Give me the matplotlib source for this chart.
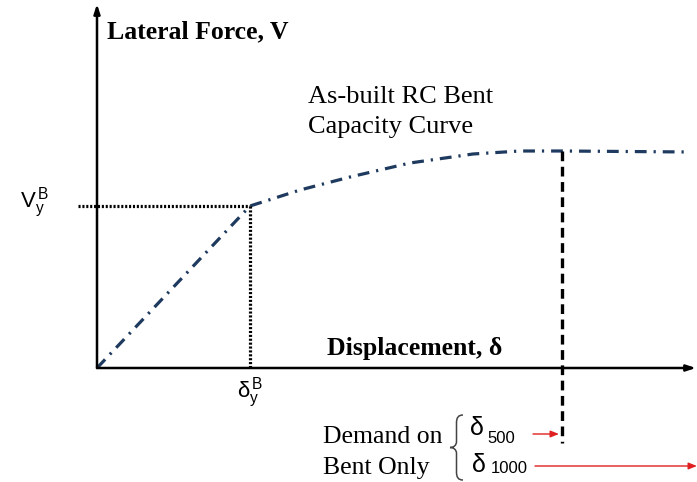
import numpy as np
import matplotlib
matplotlib.use("Agg")
import matplotlib.pyplot as plt
from matplotlib.path import Path
from matplotlib.patches import PathPatch

## Capacity curve of the as-built RC bent (displacement, lateral force)
curve_disp  = [0, 153, 203, 253, 313, 376, 423, 466, 593]
curve_force = [0, 162, 178, 191, 205, 214, 217, 217, 216]

# yield point and the 500-yr demand
yield_disp  = 153
yield_force = 162
demand_500  = 465

plt.rcParams['mathtext.fontset'] = 'custom'
plt.rcParams['mathtext.rm'] = 'Liberation Sans'
plt.rcParams['mathtext.it'] = 'Liberation Sans'
plt.rcParams['lines.scale_dashes'] = False

serif = 'Liberation Serif'
sans = 'Liberation Sans'

fig = plt.figure(figsize=(6.97, 4.82), dpi=100)
ax = fig.add_axes([0, 0, 1, 1])
ax.set_xlim(-97, 600)
ax.set_ylim(-114, 368)
ax.set_axis_off()

# axes with arrow heads
arrow = dict(arrowstyle='-|>,head_length=0.55,head_width=0.18', lw=1.8,
             color='black', shrinkA=0, shrinkB=0)
ax.annotate('', xy=(0, 364), xytext=(0, 0), arrowprops=arrow)
ax.annotate('', xy=(599, 0), xytext=(0, 0), arrowprops=arrow)

# capacity curve
ax.plot(curve_disp, curve_force, color='#1f3a5f', lw=2.3,
        dashes=(8.5, 5, 1.6, 5), solid_capstyle='butt')

# yield markers
ax.plot([-19, yield_disp], [yield_force, yield_force], color='black', lw=2.3,
        dashes=(1.5, 1.3))
ax.plot([yield_disp, yield_disp], [yield_force, 0], color='black', lw=2.3,
        dashes=(1.5, 1.3))

# demand line
ax.plot([demand_500, demand_500], [curve_force[-2], -75], color='black',
        lw=2.4, dashes=(7, 4))

# labels
ax.text(10, 330, 'Lateral Force, V', fontfamily=serif, fontweight='bold',
        fontsize=18.5, va='baseline')
ax.text(230, 13, 'Displacement, δ', fontfamily=serif, fontweight='bold',
        fontsize=18.5, va='baseline')
ax.text(211, 265, 'As-built RC Bent', fontfamily=serif, fontsize=19,
        va='baseline')
ax.text(211, 235, 'Capacity Curve', fontfamily=serif, fontsize=19,
        va='baseline')
ax.text(-77, 161, r'$\mathrm{V_y^{\,B}}$', fontsize=16, va='baseline')
ax.text(yield_disp, -29, r'$\mathrm{\delta_y^{\,B}}$', fontsize=16,
        va='baseline', ha='center')

# demand annotation
ax.text(226, -75, 'Demand on', fontfamily=serif, fontsize=18.5, va='baseline')
ax.text(226, -106, 'Bent Only', fontfamily=serif, fontsize=18.5, va='baseline')

# curly brace grouping the two demands
xl, xm, xr = 353, 359.5, 366
yt, yc, yb = -47, -79.5, -112
brace = Path(
    [(xr, yt), (xr - 5, yt), (xm, yt - 3), (xm, yt - 8),
     (xm, yc + 6),
     (xm, yc + 2), (xm - 3, yc), (xl, yc),
     (xm - 3, yc), (xm, yc - 2), (xm, yc - 6),
     (xm, yb + 8),
     (xm, yb + 3), (xr - 5, yb), (xr, yb)],
    [Path.MOVETO, Path.CURVE4, Path.CURVE4, Path.CURVE4,
     Path.LINETO,
     Path.CURVE4, Path.CURVE4, Path.CURVE4,
     Path.CURVE4, Path.CURVE4, Path.CURVE4,
     Path.LINETO,
     Path.CURVE4, Path.CURVE4, Path.CURVE4])
ax.add_patch(PathPatch(brace, fill=False, lw=1.1, edgecolor='#444444'))

ax.text(373, -67, 'δ', fontfamily=sans, fontsize=18, va='baseline')
ax.text(390, -75, '500', fontfamily=sans, fontsize=12, va='baseline')
ax.text(375, -104, 'δ', fontfamily=sans, fontsize=18, va='baseline')
ax.text(394, -105, '1000', fontfamily=sans, fontsize=12, va='baseline')

red_arrow = dict(arrowstyle='-|>,head_length=0.5,head_width=0.2', lw=1.0,
                 color='#e02020', shrinkA=0, shrinkB=0)
ax.annotate('', xy=(demand_500 - 3, -66), xytext=(436, -66),
            arrowprops=red_arrow)
ax.annotate('', xy=(600, -98), xytext=(438, -98), arrowprops=red_arrow)

fig.savefig('out.png', dpi=100)
